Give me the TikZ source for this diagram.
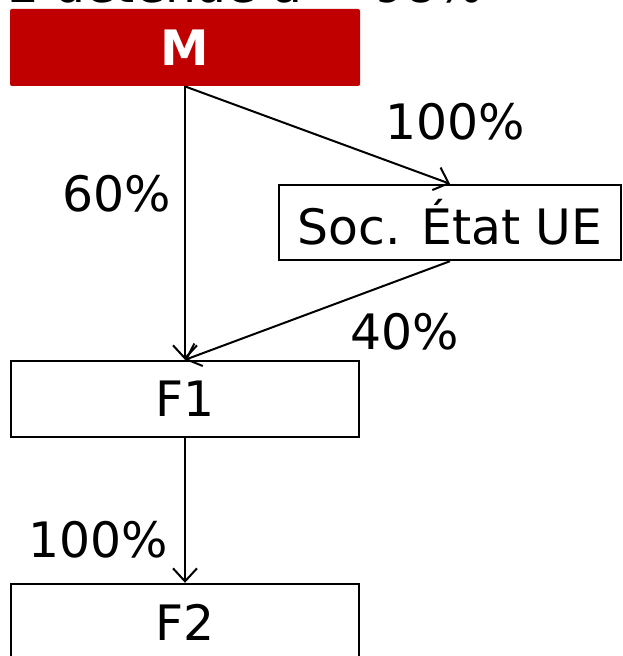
\documentclass[tikz,border=0pt]{standalone}
\usepackage{fontspec}
\setmainfont{DejaVu Sans}
\usetikzlibrary{arrows.meta}
\definecolor{mred}{RGB}{192,0,0}
\begin{document}
\begin{tikzpicture}[x=0.5pt,y=-0.5pt,
  font=\fontsize{24.4}{29}\selectfont,
  ent/.style={draw,line width=1.2pt,inner sep=0pt,minimum height=38pt},
  own/.style={line width=1pt,-{Straight Barb[length=6.5pt,width=12pt,line width=1pt]}},
  pct/.style={anchor=base,inner sep=0pt}]
\clip (0,0) rectangle (622,656);
\useasboundingbox (0,0) rectangle (622,656);
% clipped heading
\node[anchor=base west,inner sep=0pt] (head) at (8,3) {2 détenue à ≈ 98\%};
% entities
\node[fill=mred,rounded corners=1pt,inner sep=0pt,minimum width=175pt,minimum height=38.5pt,
  text=white,font=\fontsize{24.4}{29}\selectfont\bfseries] (m) at (185,47.5) {M};
\node[ent,minimum width=171pt,minimum height=37.5pt] (soc) at (450,222.5) {Soc. État UE};
\node[ent,minimum width=174pt] (f1) at (185,399) {F1};
\node[ent,minimum width=174pt] (f2) at (185,622) {F2};
% holdings
\draw[own] (m.south) -- (f1.north);
\draw[own] (m.south) -- (soc.north);
\draw[own] (soc.south) -- (f1.north);
\draw[own] (f1.south) -- (f2.north);
\node[pct] (p1) at (455,140) {100\%};
\node[pct] (p2) at (117,212) {60\%};
\node[pct] (p3) at (405,350) {40\%};
\node[pct] (p4) at (98,557) {100\%};
\end{tikzpicture}
\end{document}
